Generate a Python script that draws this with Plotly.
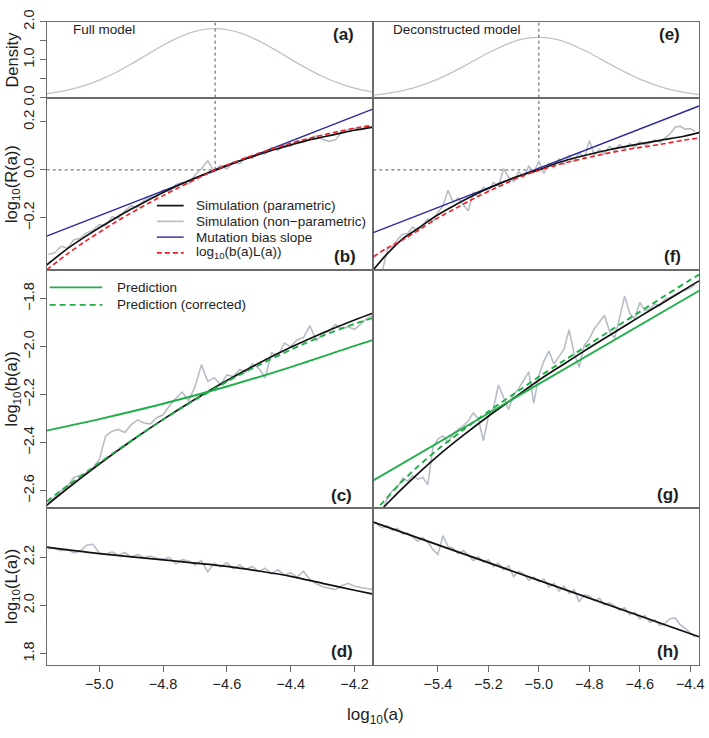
import plotly.graph_objects as go

W, H = 709, 738

# ---------------------------------------------------------------- data
MEAN_FULL = -4.637
MEAN_DEC = -5.0

# (a)/(e) density of log10(a)
DENS_X_FULL = [-5.165, -5.10, -5.05, -5.00, -4.95, -4.90, -4.85, -4.80, -4.75, -4.70, -4.65,
               -4.60, -4.55, -4.50, -4.45, -4.40, -4.35, -4.30, -4.25, -4.20, -4.141]
DENS_Y_FULL = [0.100, 0.195, 0.307, 0.460, 0.656, 0.886, 1.134, 1.380, 1.593, 1.746, 1.817,
               1.794, 1.682, 1.496, 1.264, 1.013, 0.771, 0.557, 0.382, 0.249, 0.140]
DENS_X_DEC = [-5.656, -5.60, -5.50, -5.40, -5.30, -5.20, -5.10, -5.05, -5.00, -4.95, -4.90,
              -4.80, -4.70, -4.60, -4.50, -4.40, -4.365]
DENS_Y_DEC = [0.066, 0.111, 0.250, 0.487, 0.817, 1.182, 1.476, 1.561, 1.590, 1.561, 1.476,
              1.182, 0.817, 0.487, 0.250, 0.111, 0.081]

# grids of the non-parametric simulations
A_FULL = [-5.16, -5.14, -5.12, -5.10, -5.08, -5.06, -5.04, -5.02, -5.00, -4.98,
          -4.96, -4.94, -4.92, -4.90, -4.88, -4.86, -4.84, -4.82, -4.80, -4.78,
          -4.76, -4.74, -4.72, -4.70, -4.68, -4.66, -4.64, -4.62, -4.60, -4.58,
          -4.56, -4.54, -4.52, -4.50, -4.48, -4.46, -4.44, -4.42, -4.40, -4.38,
          -4.36, -4.34, -4.32, -4.30, -4.28, -4.26, -4.24, -4.22, -4.20, -4.18,
          -4.16, -4.14]
A_DEC = [-5.64, -5.62, -5.60, -5.58, -5.56, -5.54, -5.52, -5.50, -5.48, -5.46,
         -5.44, -5.42, -5.40, -5.38, -5.36, -5.34, -5.32, -5.30, -5.28, -5.26,
         -5.24, -5.22, -5.20, -5.18, -5.16, -5.14, -5.12, -5.10, -5.08, -5.06,
         -5.04, -5.02, -5.00, -4.98, -4.96, -4.94, -4.92, -4.90, -4.88, -4.86,
         -4.84, -4.82, -4.80, -4.78, -4.76, -4.74, -4.72, -4.70, -4.68, -4.66,
         -4.64, -4.62, -4.60, -4.58, -4.56, -4.54, -4.52, -4.50, -4.48, -4.46,
         -4.44, -4.42, -4.40, -4.38]

# (b)/(f) log10 R(a)
R_X_FULL = [-5.165, -5.10, -5.05, -5.00, -4.95, -4.90, -4.85, -4.80, -4.75, -4.70, -4.65,
            -4.60, -4.55, -4.50, -4.45, -4.40, -4.35, -4.30, -4.25, -4.20, -4.141]
R_PAR_FULL = [-0.396, -0.328, -0.283, -0.241, -0.201, -0.163, -0.128, -0.094, -0.063, -0.034, -0.007,
              0.019, 0.042, 0.064, 0.085, 0.104, 0.122, 0.137, 0.151, 0.165, 0.178]
R_BL_FULL = [-0.416, -0.350, -0.303, -0.260, -0.218, -0.179, -0.142, -0.107, -0.073, -0.040, -0.008,
             0.020, 0.046, 0.069, 0.091, 0.111, 0.129, 0.145, 0.160, 0.174, 0.186]
R_NP_FULL = [-0.352, -0.345, -0.318, -0.326, -0.292, -0.285, -0.262, -0.251, -0.228, -0.232,
             -0.196, -0.201, -0.170, -0.149, -0.158, -0.128, -0.112, -0.115, -0.083, -0.089,
             -0.061, -0.052, -0.058, -0.021, 0.005, 0.038, -0.006, 0.018, 0.004, 0.032,
             0.026, 0.055, 0.048, 0.071, 0.066, 0.094, 0.082, 0.105, 0.098, 0.122,
             0.115, 0.131, 0.142, 0.128, 0.119, 0.125, 0.158, 0.165, 0.172, 0.168,
             0.181, 0.179]
SLOPE_X_FULL = [-5.165, -4.141]
SLOPE_Y_FULL = [-0.276, 0.254]

R_X_DEC = [-5.656, -5.606, -5.541, -5.475, -5.41, -5.344, -5.278, -5.213, -5.147, -5.08, -5.0,
           -4.924, -4.82, -4.72, -4.622, -4.52, -4.425, -4.365]
R_PAR_DEC = [-0.416, -0.355, -0.288, -0.241, -0.193, -0.153, -0.116, -0.083, -0.053, -0.026, 0.0,
             0.030, 0.060, 0.084, 0.104, 0.123, 0.140, 0.155]
R_BL_DEC = [-0.362, -0.328, -0.292, -0.250, -0.206, -0.168, -0.130, -0.096, -0.064, -0.032, -0.002,
            0.022, 0.048, 0.071, 0.090, 0.106, 0.124, 0.133]
R_NP_DEC = [-0.450, -0.420, -0.330, -0.318, -0.290, -0.268, -0.265, -0.238, -0.252, -0.228,
            -0.205, -0.214, -0.176, -0.150, -0.085, -0.135, -0.118, -0.145, -0.170, -0.095,
            -0.112, -0.072, -0.090, -0.052, -0.068, 0.005, -0.030, -0.048, -0.008, -0.030,
            0.015, -0.010, 0.035, -0.015, 0.028, 0.010, 0.045, 0.022, 0.060, 0.035,
            0.072, 0.048, 0.122, 0.062, 0.085, 0.066, 0.098, 0.080, 0.105, 0.088,
            0.110, 0.095, 0.118, 0.104, 0.112, 0.125, 0.115, 0.132, 0.150, 0.178,
            0.182, 0.170, 0.172, 0.160]
SLOPE_X_DEC = [-5.656, -4.365]
SLOPE_Y_DEC = [-0.261, 0.266]

# (c)/(g) log10 b(a)
B_X_FULL = [-5.165, -5.10, -5.00, -4.90, -4.80, -4.70, -4.60, -4.50, -4.40, -4.30, -4.20, -4.141]
B_PAR_FULL = [-2.661, -2.591, -2.489, -2.393, -2.303, -2.219, -2.141, -2.069, -2.003, -1.943, -1.889, -1.860]
B_PREDC_FULL = [-2.645, -2.580, -2.484, -2.392, -2.304, -2.222, -2.146, -2.077, -2.013, -1.955, -1.905, -1.880]
B_PRED_X_FULL = [-5.165, -5.0, -4.8, -4.6, -4.4, -4.2, -4.141]
B_PRED_FULL = [-2.350, -2.302, -2.238, -2.166, -2.085, -1.997, -1.972]
B_NP_FULL = [-2.650, -2.628, -2.600, -2.582, -2.545, -2.538, -2.528, -2.505, -2.470, -2.372,
             -2.352, -2.345, -2.358, -2.325, -2.305, -2.318, -2.322, -2.296, -2.284, -2.246,
             -2.215, -2.190, -2.225, -2.168, -2.075, -2.145, -2.130, -2.158, -2.118, -2.125,
             -2.095, -2.106, -2.072, -2.090, -2.130, -2.025, -2.040, -1.985, -2.000, -1.972,
             -1.962, -1.912, -1.975, -1.948, -1.935, -1.908, -1.925, -1.918, -1.928, -1.905,
             -1.882, -1.868]

B_X_DEC = [-5.656, -5.619, -5.55, -5.48, -5.40, -5.30, -5.20, -5.10, -5.00, -4.90, -4.80,
           -4.70, -4.60, -4.50, -4.40, -4.365]
B_PAR_DEC = [-2.710, -2.673, -2.600, -2.530, -2.455, -2.370, -2.290, -2.215, -2.140, -2.072, -2.005,
             -1.940, -1.875, -1.812, -1.748, -1.726]
B_PREDC_DEC = [-2.692, -2.650, -2.570, -2.500, -2.428, -2.347, -2.270, -2.198, -2.126, -2.058, -1.990,
               -1.922, -1.855, -1.788, -1.722, -1.700]
B_PRED_X_DEC = [-5.656, -4.365]
B_PRED_DEC = [-2.557, -1.767]
B_NP_DEC = [-2.720, -2.690, -2.628, -2.600, -2.585, -2.548, -2.560, -2.538, -2.552, -2.545,
            -2.575, -2.420, -2.385, -2.372, -2.400, -2.362, -2.345, -2.330, -2.310, -2.276,
            -2.300, -2.392, -2.290, -2.255, -2.160, -2.215, -2.262, -2.200, -2.175, -2.140,
            -2.105, -2.235, -2.120, -2.060, -2.019, -2.073, -2.040, -2.010, -1.930, -2.030,
            -2.086, -1.995, -1.968, -1.925, -1.897, -1.870, -1.935, -1.965, -1.880, -1.789,
            -1.860, -1.884, -1.816, -1.850, -1.843, -1.822, -1.830, -1.802, -1.795, -1.782,
            -1.772, -1.765, -1.756, -1.742]

# (d)/(h) log10 L(a)
L_X_FULL = [-5.165, -5.0, -4.8, -4.6, -4.5, -4.4, -4.3, -4.2, -4.141]
L_PAR_FULL = [2.242, 2.215, 2.189, 2.162, 2.143, 2.121, 2.092, 2.063, 2.047]
L_NP_FULL = [2.236, 2.238, 2.228, 2.233, 2.218, 2.225, 2.250, 2.254, 2.218, 2.212,
             2.222, 2.208, 2.220, 2.200, 2.212, 2.198, 2.205, 2.196, 2.192, 2.200,
             2.172, 2.190, 2.185, 2.168, 2.186, 2.140, 2.175, 2.160, 2.178, 2.152,
             2.168, 2.150, 2.162, 2.140, 2.155, 2.132, 2.148, 2.126, 2.135, 2.118,
             2.142, 2.108, 2.090, 2.078, 2.072, 2.066, 2.082, 2.092, 2.080, 2.075,
             2.070, 2.065]
L_X_DEC = [-5.656, -5.0, -4.365]
L_PAR_DEC = [2.346, 2.104, 1.870]
L_NP_DEC = [2.336, 2.322, 2.330, 2.312, 2.320, 2.296, 2.300, 2.285, 2.268, 2.282,
            2.262, 2.232, 2.212, 2.290, 2.245, 2.238, 2.215, 2.228, 2.210, 2.186,
            2.202, 2.180, 2.190, 2.162, 2.175, 2.148, 2.165, 2.120, 2.142, 2.130,
            2.105, 2.118, 2.098, 2.110, 2.076, 2.092, 2.060, 2.080, 2.050, 2.065,
            2.015, 2.045, 2.038, 2.020, 2.030, 2.002, 2.012, 1.998, 1.980, 1.990,
            1.962, 1.972, 1.945, 1.958, 1.930, 1.940, 1.918, 1.925, 1.945, 1.948,
            1.920, 1.905, 1.885, 1.868]

X_TICKS_FULL = [-5.0, -4.8, -4.6, -4.4, -4.2]
X_TICKS_DEC = [-5.4, -5.2, -5.0, -4.8, -4.6, -4.4]
DENS_TICKS = [0.0, 1.0, 2.0]
DENS_MINOR_TICKS = [0.5, 1.5]
R_TICKS = [-0.2, 0.0, 0.2]
B_TICKS = [-2.6, -2.4, -2.2, -2.0, -1.8]
L_TICKS = [1.8, 2.0, 2.2]

# ---------------------------------------------------------------- styling
FONT = "Liberation Sans, Arial, Helvetica, sans-serif"
C_NP = "#b7bdc6"
C_DENS = "#bcc3cd"
C_PAR = "#111111"
C_BLUE = "#2b2b9c"
C_RED = "#ee1f26"
C_GREEN = "#1fae48"
C_FRAME = "#6a6a6a"
C_TEXT = "#1e1e1e"

X_RANGE = {0: [-5.165, -4.141], 1: [-5.656, -4.365]}
Y_RANGE = [[0.0, 2.0], [-0.416, 0.301], [-2.673, -1.680], [1.7535, 2.404]]
COL_PX = [(47, 376), (376, 704)]
ROW_PX = [(10, 88), (88, 265), (265, 510), (510, 671)]
Y_TICKS = [DENS_TICKS, R_TICKS, B_TICKS, L_TICKS]


def pxx(p):
    return p / W


def pxy(p):
    return 1 - p / H


def idx(row, col):
    return row * 2 + col + 1


def sfx(i):
    return "" if i == 1 else str(i)


fig = go.Figure()


def line(x, y, row, col, color, width, dash=None, shape="linear", name=None):
    i = idx(row, col)
    fig.add_trace(go.Scatter(
        x=x, y=y, mode="lines", name=name, showlegend=False,
        xaxis="x" + sfx(i), yaxis="y" + sfx(i),
        line=dict(color=color, width=width, dash=dash, shape=shape,
                  smoothing=0.8 if shape == "spline" else None),
        hoverinfo="skip"))


# (a), (e)
line(DENS_X_FULL, DENS_Y_FULL, 0, 0, C_DENS, 1.3, shape="spline", name="Density")
line(DENS_X_DEC, DENS_Y_DEC, 0, 1, C_DENS, 1.3, shape="spline", name="Density")

# (b), (f)
for col, (xs, npy, rx, par, bl, sx, sy) in enumerate([
        (A_FULL, R_NP_FULL, R_X_FULL, R_PAR_FULL, R_BL_FULL, SLOPE_X_FULL, SLOPE_Y_FULL),
        (A_DEC, R_NP_DEC, R_X_DEC, R_PAR_DEC, R_BL_DEC, SLOPE_X_DEC, SLOPE_Y_DEC)]):
    line(xs, npy, 1, col, C_NP, 1.6, name="Simulation (non-parametric)")
    line(sx, sy, 1, col, C_BLUE, 1.4, name="Mutation bias slope")
    line(rx, par, 1, col, C_PAR, 1.7, shape="spline", name="Simulation (parametric)")
    line(rx, bl, 1, col, C_RED, 1.6, dash="5px,3px", shape="spline", name="log10(b(a)L(a))")

# (c), (g)
for col, (xs, npy, bx, par, predc, px_, pred) in enumerate([
        (A_FULL, B_NP_FULL, B_X_FULL, B_PAR_FULL, B_PREDC_FULL, B_PRED_X_FULL, B_PRED_FULL),
        (A_DEC, B_NP_DEC, B_X_DEC, B_PAR_DEC, B_PREDC_DEC, B_PRED_X_DEC, B_PRED_DEC)]):
    line(xs, npy, 2, col, C_NP, 1.6, name="Simulation (non-parametric)")
    line(bx, par, 2, col, C_PAR, 1.7, shape="spline", name="Simulation (parametric)")
    line(bx, predc, 2, col, C_GREEN, 1.9, dash="6px,4px", shape="spline", name="Prediction (corrected)")
    line(px_, pred, 2, col, C_GREEN, 1.9, shape="spline", name="Prediction")

# (d), (h)
line(A_FULL, L_NP_FULL, 3, 0, C_NP, 1.6, name="Simulation (non-parametric)")
line(L_X_FULL, L_PAR_FULL, 3, 0, C_PAR, 1.7, shape="spline", name="Simulation (parametric)")
line(A_DEC, L_NP_DEC, 3, 1, C_NP, 1.6, name="Simulation (non-parametric)")
line(L_X_DEC, L_PAR_DEC, 3, 1, C_PAR, 1.7, shape="spline", name="Simulation (parametric)")

# ---------------------------------------------------------------- axes
layout = dict(
    width=W, height=H, margin=dict(l=0, r=0, t=0, b=0), autosize=False,
    paper_bgcolor="white", plot_bgcolor="white", showlegend=False,
    font=dict(family=FONT, color=C_TEXT, size=14),
)
for row in range(4):
    for col in range(2):
        i = idx(row, col)
        c0, c1 = COL_PX[col]
        r0, r1 = ROW_PX[row]
        bottom = row == 3
        left = col == 0
        xt = X_TICKS_FULL if col == 0 else X_TICKS_DEC
        layout["xaxis" + sfx(i)] = dict(
            domain=[pxx(c0), pxx(c1)], range=X_RANGE[col], anchor="y" + sfx(i),
            showline=True, mirror=True, linecolor=C_FRAME, linewidth=1,
            showgrid=False, zeroline=False, fixedrange=True,
            ticks="outside" if bottom else "", ticklen=6, tickwidth=1, tickcolor=C_FRAME,
            showticklabels=bottom, tickmode="array", tickvals=xt, tickformat=".1f",
            ticklabeloverflow="allow",
            tickfont=dict(size=14.5, color=C_TEXT, family=FONT),
        )
        yax = dict(
            domain=[pxy(r1), pxy(r0)], range=Y_RANGE[row], anchor="x" + sfx(i),
            showline=True, mirror=True, linecolor=C_FRAME, linewidth=1,
            showgrid=False, zeroline=False, fixedrange=True,
            ticks="outside" if left else "", ticklen=6, tickwidth=1, tickcolor=C_FRAME,
            showticklabels=left, tickmode="array", tickvals=Y_TICKS[row], tickformat=".1f",
            ticklabeloverflow="allow",
            tickangle=-90, tickfont=dict(size=14.5, color=C_TEXT, family=FONT),
        )
        if row == 0 and left:
            yax["minor"] = dict(tickmode="array", tickvals=DENS_MINOR_TICKS, ticks="outside",
                                ticklen=6, tickwidth=1, tickcolor=C_FRAME, showgrid=False)
        layout["yaxis" + sfx(i)] = yax

fig.update_layout(**layout)

# ---------------------------------------------------------------- reference lines (mean of log10 a)
ref = dict(color="#555555", width=1, dash="3px,3px")
for col, mean in enumerate([MEAN_FULL, MEAN_DEC]):
    ia = sfx(idx(0, col))
    ib = sfx(idx(1, col))
    fig.add_shape(type="line", xref="x" + ia, yref="y" + ia, x0=mean, x1=mean,
                  y0=Y_RANGE[0][0], y1=Y_RANGE[0][1], line=ref, layer="above")
    fig.add_shape(type="line", xref="x" + ib, yref="y" + ib, x0=mean, x1=mean,
                  y0=0, y1=Y_RANGE[1][1], line=ref, layer="below")
    fig.add_shape(type="line", xref="x" + ib, yref="y" + ib, x0=X_RANGE[col][0], x1=mean,
                  y0=0, y1=0, line=ref, layer="below")

# ---------------------------------------------------------------- text
ann = []


def text(s, x, y, size, xanchor="center", angle=0, bold=False):
    ann.append(dict(text=f"<b>{s}</b>" if bold else s, x=pxx(x), y=pxy(y),
                    xref="paper", yref="paper", xanchor=xanchor, yanchor="middle",
                    showarrow=False, textangle=angle,
                    font=dict(size=size, color=C_TEXT, family=FONT)))


for lab, x, y in [("(a)", 359, 23), ("(e)", 687, 23), ("(b)", 361, 251), ("(f)", 688, 251),
                  ("(c)", 357, 497), ("(g)", 686, 496), ("(d)", 358, 657), ("(h)", 686, 657)]:
    text(lab, x, y, 17, xanchor="right", bold=True)

text("Full model", 72, 18, 13.5, xanchor="left")
text("Deconstructed model", 394, 18, 13.5, xanchor="left")

text("Density", 12, 49, 16.5, angle=-90)
text("log<sub>10</sub>(R(a))", 12, 177, 16.5, angle=-90)
text("log<sub>10</sub>(b(a))", 12, 387, 16.5, angle=-90)
text("log<sub>10</sub>(L(a))", 12, 590, 16.5, angle=-90)
text("log<sub>10</sub>(a)", 378, 724, 17)

# legends (drawn inside panels b and c)
LEG_B = [("Simulation (parametric)", C_PAR, None, 1.7),
         ("Simulation (non\u2212parametric)", C_NP, None, 1.7),
         ("Mutation bias slope", C_BLUE, None, 1.4),
         ("log<sub>10</sub>(b(a)L(a))", C_RED, "5px,3px", 1.6)]
for k, (lab, c, d, w) in enumerate(LEG_B):
    yy = 199 + 16.2 * k
    fig.add_shape(type="line", xref="paper", yref="paper", x0=pxx(158), x1=pxx(185),
                  y0=pxy(yy), y1=pxy(yy), line=dict(color=c, width=w, dash=d))
    text(lab, 195, yy, 13.5, xanchor="left")

LEG_C = [("Prediction", C_GREEN, None), ("Prediction (corrected)", C_GREEN, "6px,4px")]
for k, (lab, c, d) in enumerate(LEG_C):
    yy = 283 + 18 * k
    fig.add_shape(type="line", xref="paper", yref="paper", x0=pxx(50), x1=pxx(103),
                  y0=pxy(yy), y1=pxy(yy), line=dict(color=c, width=1.9, dash=d))
    text(lab, 116, yy, 13.5, xanchor="left")

fig.update_layout(annotations=ann)

fig.write_html("out.html", config={"displayModeBar": False},
               post_script="document.body.style.margin='0px';document.body.style.overflow='hidden';")
